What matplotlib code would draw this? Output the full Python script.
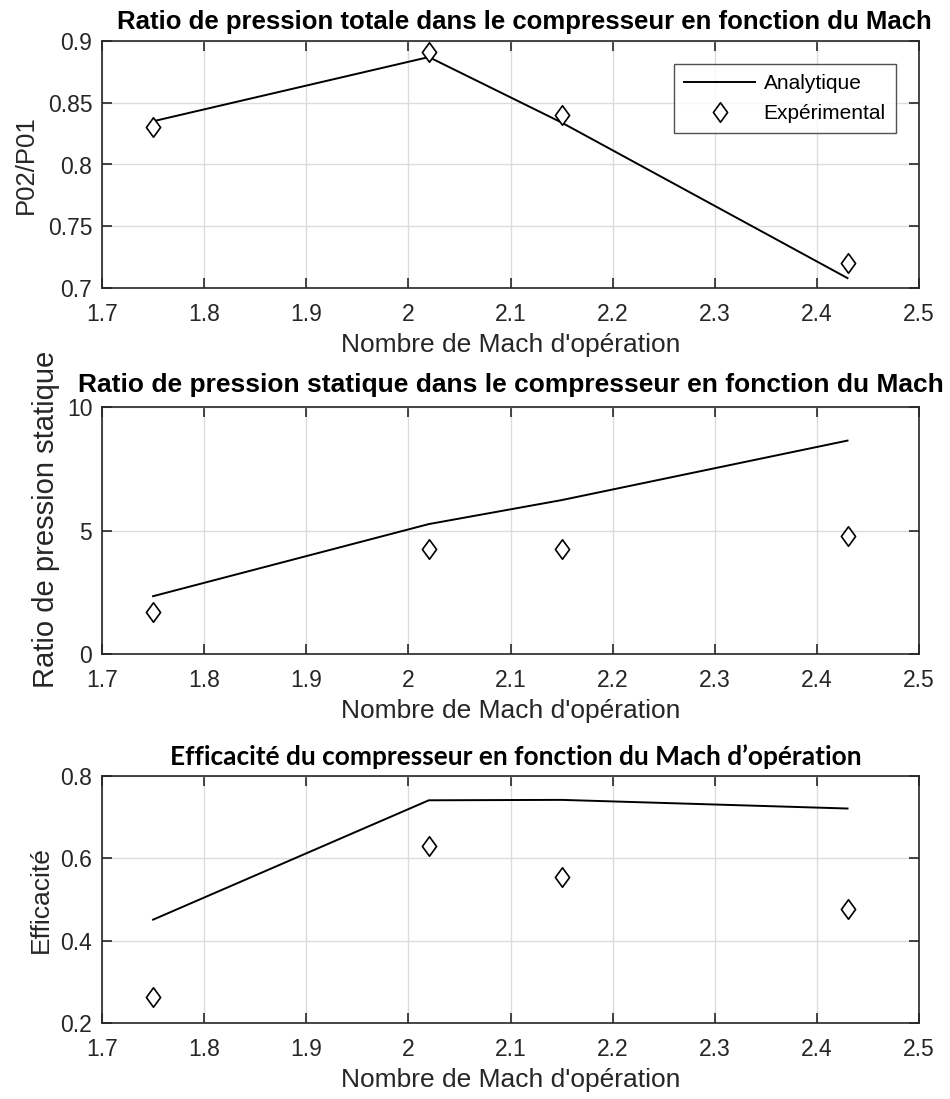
import matplotlib
matplotlib.use("Agg")
import matplotlib.pyplot as plt
from matplotlib.path import Path

# Operating Mach numbers
mach = [1.75, 2.02, 2.15, 2.43]

# Total pressure ratio P02/P01
p_tot_analytic = [0.835, 0.887, 0.834, 0.708]
p_tot_exp = [0.830, 0.891, 0.840, 0.720]

# Static pressure ratio
p_stat_analytic = [2.34, 5.26, 6.23, 8.64]
p_stat_exp = [1.71, 4.24, 4.24, 4.76]

# Compressor efficiency
eff_analytic = [0.451, 0.741, 0.742, 0.721]
eff_exp = [0.264, 0.630, 0.554, 0.477]

x_ticks = [1.7, 1.8, 1.9, 2.0, 2.1, 2.2, 2.3, 2.4, 2.5]
x_ticklabels = ["1.7", "1.8", "1.9", "2", "2.1", "2.2", "2.3", "2.4", "2.5"]

FONT = ["Liberation Sans", "DejaVu Sans"]
plt.rcParams["font.family"] = FONT
DARK = "#262626"

# Tall open diamond
diamond = Path([(0, 1), (0.73, 0), (0, -1), (-0.73, 0), (0, 1)],
               [Path.MOVETO, Path.LINETO, Path.LINETO, Path.LINETO, Path.CLOSEPOLY])

fig = plt.figure(figsize=(9.5, 10.99), dpi=100)

left, width, height = 102 / 950, 817 / 950, 247 / 1099
bottoms = [1 - 288 / 1099, 1 - 654 / 1099, 1 - 1023 / 1099]

panels = [
    dict(ya=p_tot_analytic, ye=p_tot_exp, ylim=(0.7, 0.9),
         yticks=[0.7, 0.75, 0.8, 0.85, 0.9],
         yticklabels=["0.7", "0.75", "0.8", "0.85", "0.9"],
         ylabel="P02/P01", ysize=18.5, ycoords=(-0.079, 0.5),
         title="Ratio de pression totale dans le compresseur en fonction du Mach",
         tfont=FONT, tsize=18.5, tpad=8.6, tx=0.5165),
    dict(ya=p_stat_analytic, ye=p_stat_exp, ylim=(0, 10),
         yticks=[0, 5, 10], yticklabels=["0", "5", "10"],
         ylabel="Ratio de pression statique", ysize=21, ycoords=(-0.051, 0.545),
         title="Ratio de pression statique dans le compresseur en fonction du Mach",
         tfont=FONT, tsize=19, tpad=10.8, tx=0.5),
    dict(ya=eff_analytic, ye=eff_exp, ylim=(0.2, 0.8),
         yticks=[0.2, 0.4, 0.6, 0.8], yticklabels=["0.2", "0.4", "0.6", "0.8"],
         ylabel="Efficacité", ysize=19, ycoords=(-0.060, 0.5),
         title="Efficacité du compresseur en fonction du Mach d\u2019opération",
         tfont=["Lato", "DejaVu Sans"], tsize=18.9, tpad=7.9, tx=0.507),
]

for i, (b, p) in enumerate(zip(bottoms, panels)):
    ax = fig.add_axes([left, b, width, height])
    ax.plot(mach, p["ya"], color="black", lw=1.4, label="Analytique", zorder=3)
    ax.plot(mach, p["ye"], linestyle="none", marker=diamond, markersize=14,
            markerfacecolor="white", markeredgecolor="black", markeredgewidth=1.2,
            label="Expérimental", zorder=4)
    ax.set_xlim(1.7, 2.5)
    ax.set_ylim(*p["ylim"])
    ax.set_xticks(x_ticks)
    ax.set_xticklabels(x_ticklabels)
    ax.set_yticks(p["yticks"])
    ax.set_yticklabels(p["yticklabels"])
    ax.grid(True, color="#dcdcdc", lw=1.0)
    ax.set_axisbelow(True)
    ax.tick_params(direction="in", length=7, width=1.2, top=True, right=True,
                   labelsize=16.5, colors=DARK)
    ax.tick_params(axis="x", pad=10.5)
    ax.tick_params(axis="y", pad=7)
    for s in ax.spines.values():
        s.set_color(DARK)
        s.set_linewidth(1.2)
    ax.set_xlabel("Nombre de Mach d'opération", fontsize=19, color=DARK, labelpad=5.5)
    ax.set_ylabel(p["ylabel"], fontsize=p["ysize"], color=DARK)
    ax.yaxis.set_label_coords(*p["ycoords"])
    ax.set_title(p["title"], fontsize=p["tsize"], fontweight="bold",
                 family=p["tfont"], color="black", pad=p["tpad"], x=p["tx"])
    if i == 0:
        leg = ax.legend(loc="upper right", bbox_to_anchor=(0.972, 0.907),
                        fontsize=15, frameon=True, fancybox=False,
                        handlelength=3.4, borderpad=0.5, labelspacing=0.5,
                        handletextpad=0.4, borderaxespad=0)
        leg.get_frame().set_edgecolor(DARK)
        leg.get_frame().set_linewidth(1.0)

fig.savefig("out.png", dpi=100)
